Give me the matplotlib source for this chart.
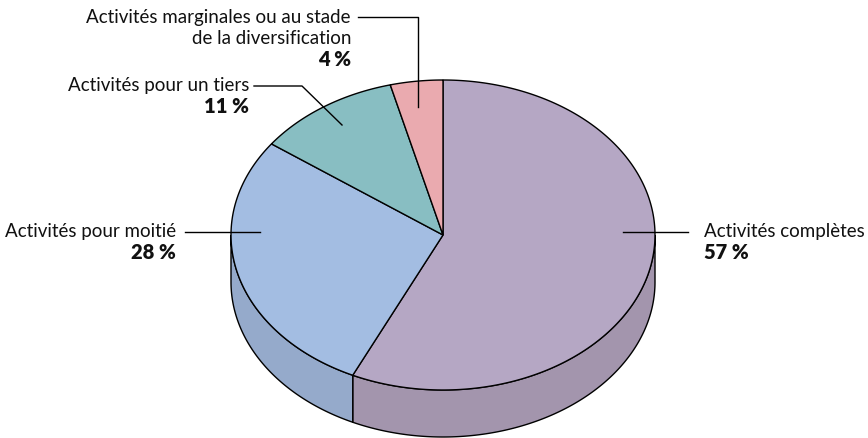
import numpy as np
import matplotlib.pyplot as plt
from matplotlib.patches import Polygon

labels = ['Activités complètes', 'Activités pour moitié', 'Activités pour un tiers',
          'Activités marginales ou au stade\nde la diversification']
shares = [57, 28, 11, 4]
pct_labels = ['57 %', '28 %', '11 %', '4 %']
top_colors = ['#b5a7c4', '#a3bde2', '#88bec2', '#eaaaaf']
side_colors = ['#a395ad', '#95aacb', '#7aabae', '#d2999d']

# pie geometry in pixels (y grows downward)
cx, cy, rx, ry, depth = 443, 235, 212, 155, 47

plt.rcParams['font.family'] = ['Lato', 'DejaVu Sans']

fig = plt.figure(figsize=(8.68, 4.38), dpi=100)
ax = fig.add_axes([0, 0, 1, 1])
ax.set_xlim(0, 868)
ax.set_ylim(438, 0)
ax.axis('off')


def arc(a0, a1, dy=0, n=200):
    t = np.radians(np.linspace(a0, a1, n))
    return np.column_stack([cx + rx * np.cos(t), cy - ry * np.sin(t) + dy])


# slices start at 12 o'clock and run clockwise
bounds = 90 - 360 * np.cumsum([0] + shares) / 100.0

# side walls, only the front half shows
for i in range(len(shares)):
    hi = min(bounds[i], 0)
    lo = max(bounds[i + 1], -180)
    if lo < hi:
        upper = arc(hi, lo)
        lower = arc(lo, hi, dy=depth)
        ax.add_patch(Polygon(np.vstack([upper, lower]), closed=True,
                             facecolor=side_colors[i], edgecolor='black', lw=1.0))

# top faces
for i in range(len(shares)):
    pts = np.vstack([[cx, cy], arc(bounds[i], bounds[i + 1])])
    ax.add_patch(Polygon(pts, closed=True, facecolor=top_colors[i],
                         edgecolor='black', lw=1.0, joinstyle='miter'))

# leader lines: polyline points, first text line position, alignment
leaders = [
    ([(623, 232), (688, 232)], (704, 231), 'left'),
    ([(260, 232), (185, 232)], (176, 231), 'right'),
    ([(342, 125), (302, 86), (254, 86)], (249, 85), 'right'),
    ([(418, 107), (418, 17), (358, 17)], (351, 17), 'right'),
]

fs = 13.5
step = 21.5
for (path, (tx, ty), ha), lab, pct in zip(leaders, labels, pct_labels):
    xs, ys = zip(*path)
    ax.plot(xs, ys, color='black', lw=1.0)
    rows = lab.split('\n')
    for k, row in enumerate(rows):
        ax.text(tx, ty + k * step, row, ha=ha, va='center', fontsize=fs,
                color='#111111')
    ax.text(tx, ty + len(rows) * step, pct, ha=ha, va='center', fontsize=14.5,
            fontweight='heavy', color='#111111')

fig.savefig('out.png', dpi=100)
